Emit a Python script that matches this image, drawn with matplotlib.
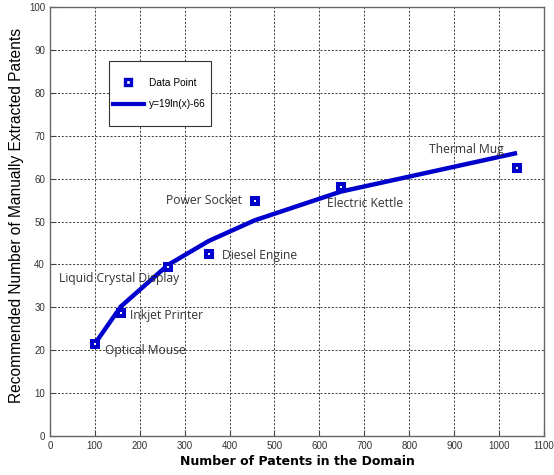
import matplotlib
matplotlib.use("Agg")
import matplotlib.pyplot as plt
from matplotlib.lines import Line2D
from matplotlib.patches import Rectangle

products = ["Optical Mouse", "Inkjet Printer", "Liquid Crystal Display", "Diesel Engine",
            "Power Socket", "Electric Kettle", "Thermal Mug"]
patents = [100, 158, 263, 354, 456, 648, 1040]
recommended = [21.4, 28.7, 39.4, 42.4, 54.8, 58.0, 62.5]
fit_values = [21.5, 30.2, 39.9, 45.5, 50.3, 57.0, 66.0]
label_pos = [(122, 20.0), (178, 28.0), (20, 36.8), (383, 42.0), (258, 54.8), (617, 54.3), (844, 66.9)]
xticks = list(range(0, 1101, 100))
yticks = list(range(0, 101, 10))

blue = "#0000CC"
fig = plt.figure(figsize=(5.54, 4.75), dpi=100)
ax = fig.add_axes([0.090, 0.082, 0.892, 0.903])

ax.plot(patents, fit_values, color=blue, lw=3.2, solid_capstyle="butt", zorder=3)
ax.plot(patents, recommended, ls="none", marker="s", ms=4.4, mfc="white", mec=blue, mew=2.9, zorder=4)

for name, (lx, ly) in zip(products, label_pos):
    ax.text(lx, ly, name, fontsize=8.7, family="Open Sans", color="#333333", va="center", ha="left", zorder=5)

ax.set_xlim(0, 1100)
ax.set_ylim(0, 100)
ax.set_xticks(xticks)
ax.set_yticks(yticks)
ax.tick_params(direction="in", labelsize=7, length=4, colors="#444444", labelcolor="#333333")
for lab in ax.get_xticklabels() + ax.get_yticklabels():
    lab.set_family("Liberation Sans")
ax.grid(True, color="#222222", ls=(0, (2.5, 2)), lw=0.6)
for s in ax.spines.values():
    s.set_color("#666666")
    s.set_linewidth(1)

ax.set_xlabel("Number of Patents in the Domain", fontsize=9, fontweight="bold", family="DejaVu Sans", labelpad=3)
ax.set_ylabel("Recommended Number of Manually Extracted Patents", fontsize=11.2, family="Liberation Sans")
ax.yaxis.set_label_coords(-0.053, 0.515)

# legend frame
ax.add_patch(Rectangle((0.119, 0.7226), 0.2065, 0.1515, transform=ax.transAxes,
                       facecolor="white", edgecolor="#333333", lw=0.8, zorder=6))
handles = [Line2D([], [], ls="none", marker="s", ms=3.8, mfc="white", mec=blue, mew=2.4),
           Line2D([], [], color=blue, lw=3)]
leg = ax.legend(handles, ["Data Point", "y=19ln(x)-66"], loc="upper left",
                bbox_to_anchor=(0.1275, 0.835), borderaxespad=0, frameon=False,
                prop={"family": "Liberation Sans", "size": 7.3},
                borderpad=0, labelspacing=1.1, handlelength=3.05, handletextpad=0.5)
leg.set_zorder(7)

fig.savefig("out.png", dpi=100)
